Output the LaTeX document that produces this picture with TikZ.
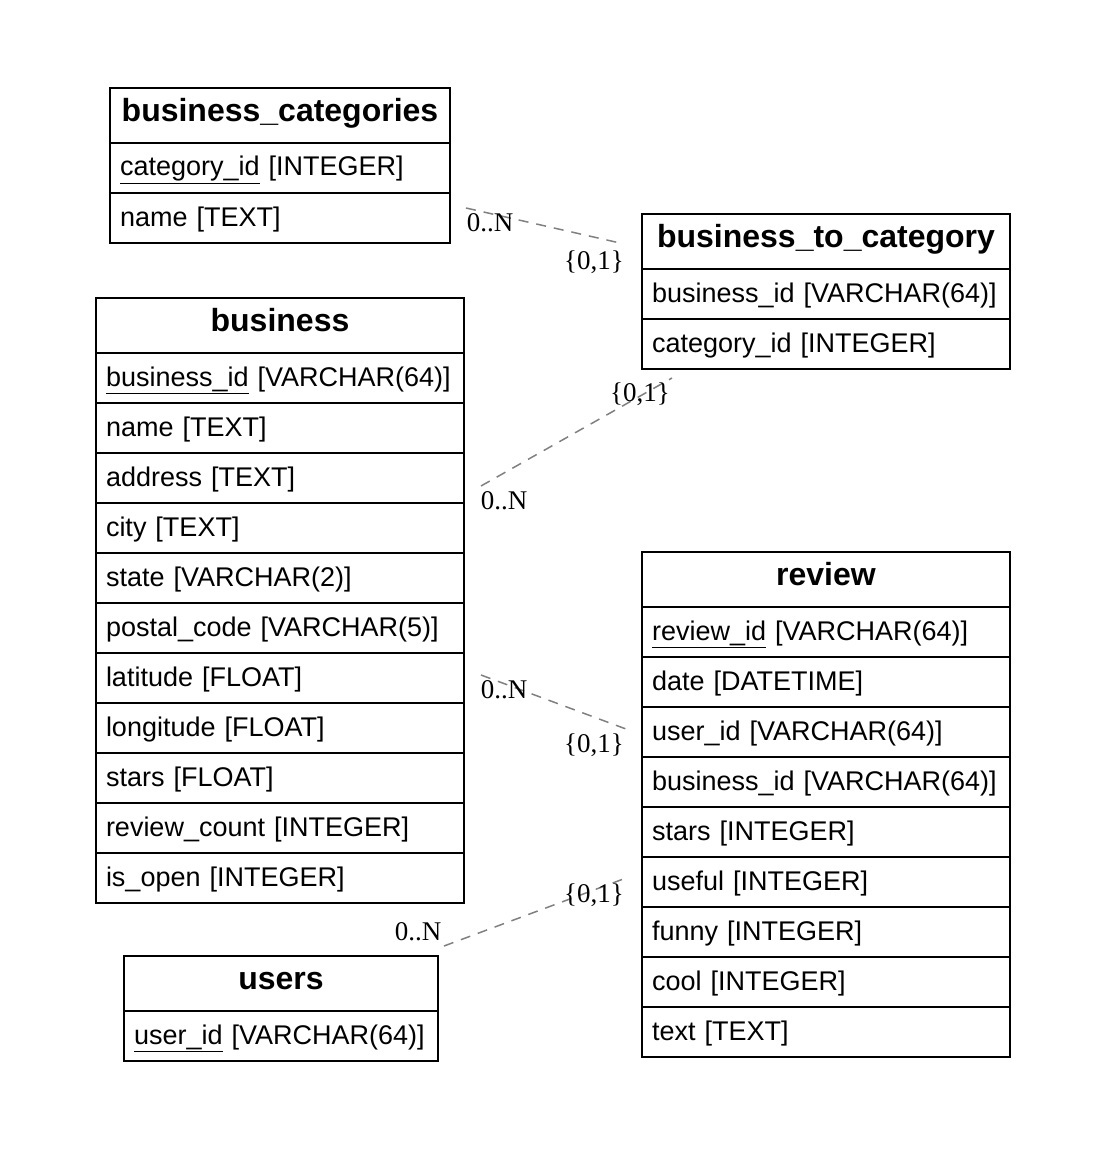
\documentclass[tikz,border=0pt]{standalone}
\usepackage{fontspec}
\setmainfont{Liberation Serif}
\setsansfont{Liberation Sans}
\usetikzlibrary{calc, positioning}

\newcommand{\key}[1]{\underline{#1}}

\begin{document}
\begin{tikzpicture}[x=1pt, y=-1pt]
  \tikzset{
   box/.style={draw, line width=1.5pt, anchor=north west, outer sep=0pt, inner ysep=0pt},
   head/.style={box, minimum height=55pt, text height=23pt, text depth=11pt, font=\sffamily\bfseries\fontsize{32}{38}\selectfont},
   field/.style={box, minimum height=50pt, text height=23pt, text depth=7pt, inner xsep=10pt, align=left, font=\sffamily\fontsize{27}{32}\selectfont},
   card/.style={font=\rmfamily\fontsize{27}{32}\selectfont, inner sep=0pt},
   link/.style={gray, line width=1.5pt, dash pattern=on 10pt off 8pt},
  }
  \useasboundingbox (0,0) rectangle (1106,1150);

  % tables
  \node [head, minimum width=340pt] (bc) at (110,88) {business\_categories};
  \foreach \r [count=\i] in {
   \key{category\_id} [INTEGER],
   name [TEXT]
  }
   \node [field, text width=320pt] (bc-\i) at ($(bc.south west)+(0,{(\i-1)*50})$) {\r};

  \node [head, minimum width=368pt] (btc) at (642,214) {business\_to\_category};
  \foreach \r [count=\i] in {
   business\_id [VARCHAR(64)],
   category\_id [INTEGER]
  }
   \node [field, text width=348pt] (btc-\i) at ($(btc.south west)+(0,{(\i-1)*50})$) {\r};

  \node [head, minimum width=368pt] (biz) at (96,298) {business};
  \foreach \r [count=\i] in {
   \key{business\_id} [VARCHAR(64)],
   name [TEXT],
   address [TEXT],
   city [TEXT],
   state [VARCHAR(2)],
   postal\_code [VARCHAR(5)],
   latitude [FLOAT],
   longitude [FLOAT],
   stars [FLOAT],
   review\_count [INTEGER],
   is\_open [INTEGER]
  }
   \node [field, text width=348pt] (biz-\i) at ($(biz.south west)+(0,{(\i-1)*50})$) {\r};

  \node [head, minimum width=368pt] (rev) at (642,552) {review};
  \foreach \r [count=\i] in {
   \key{review\_id} [VARCHAR(64)],
   date [DATETIME],
   user\_id [VARCHAR(64)],
   business\_id [VARCHAR(64)],
   stars [INTEGER],
   useful [INTEGER],
   funny [INTEGER],
   cool [INTEGER],
   text [TEXT]
  }
   \node [field, text width=348pt] (rev-\i) at ($(rev.south west)+(0,{(\i-1)*50})$) {\r};

  \node [head, minimum width=314pt] (usr) at (124,956) {users};
  \node [field, text width=294pt] (usr-1) at (usr.south west) {\key{user\_id} [VARCHAR(64)]};

  % link ends
  \coordinate (s1) at ($(bc-2.east)+(16,-10)$);
  \coordinate (e1) at ($(btc.west)+(-22,1.5)$);
  \coordinate (s2) at ($(biz-3.east)+(17,8)$);
  \coordinate (e2) at ($(btc-2.south west)+(30,9)$);
  \coordinate (s3) at ($(biz-7.east)+(17,-3)$);
  \coordinate (e3) at ($(rev-3.west)+(-16,-3)$);
  \coordinate (s4) at ($(usr.north east)+(6,-10)$);
  \coordinate (e4) at ($(rev-6.west)+(-16,-4)$);

  % links
  \foreach \i/\sx/\sy/\ex/\ey in {
   1/24/15/-26/19,
   2/23/15/-32/16,
   3/23/15/-32/16,
   4/-26/-14/-32/17
  } {
   \draw [link] (s\i) -- (e\i);
   \node [card] (n\i) at ($(s\i)+(\sx,\sy)$) {0..N};
   \node [card] (o\i) at ($(e\i)+(\ex,\ey)$) {\{0,1\}};
  }
\end{tikzpicture}
\end{document}
